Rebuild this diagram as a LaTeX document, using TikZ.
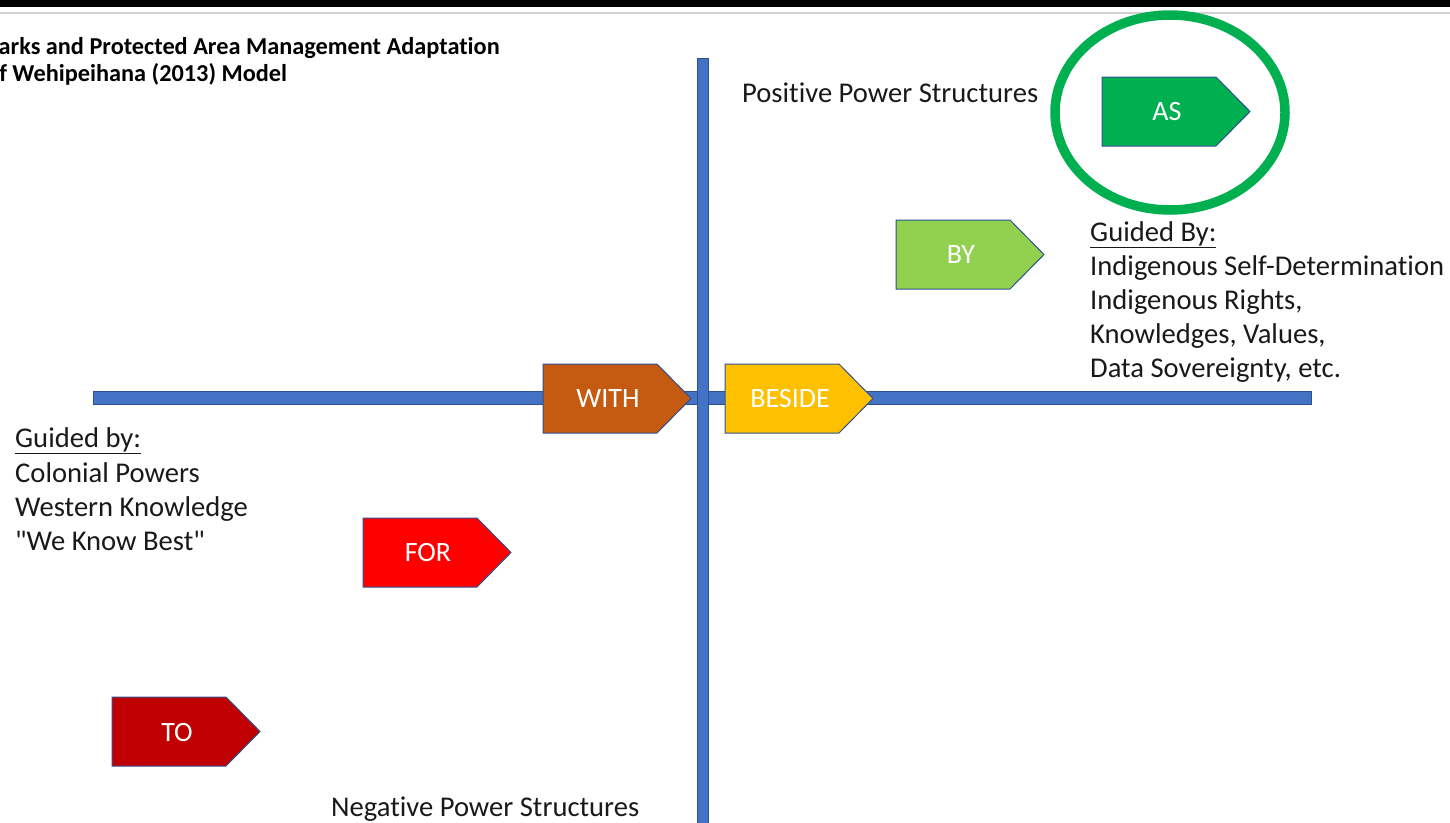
\documentclass[tikz,border=0pt]{standalone}
\usepackage{fontspec}
\setmainfont{Carlito}[Ligatures={ResetAll,NoCommon}]
\newfontfamily\plainquotes{Carlito}[Mapping=]
\newcommand\sq{{\plainquotes\symbol{34}}}
\begin{document}
\begin{tikzpicture}[x=1pt,y=-1pt,
  shapeline/.style={draw=outl,line width=1pt},
  axisbar/.style={fill=axisblue,draw=outl,line width=0.8pt},
  lbl/.style={text=white,font=\fontsize{28}{32}\selectfont,inner sep=0pt},
  body/.style={font=\fontsize{28.6}{34}\selectfont,inner sep=0pt,text=black!90,anchor=base west},
  ttl/.style={font=\bfseries\fontsize{24.3}{27}\selectfont,inner sep=0pt,anchor=base west}]
\definecolor{outl}{HTML}{2F528F}
\definecolor{axisblue}{HTML}{4472C4}
\definecolor{asgreen}{HTML}{00B050}
\definecolor{bygreen}{HTML}{92D050}
\definecolor{withbrown}{HTML}{C55A11}
\definecolor{besideyellow}{HTML}{FFC000}
\definecolor{forred}{HTML}{FF0000}
\definecolor{todarkred}{HTML}{C00000}
\newcommand\pentagon[5]{% name, left x, top y, fill colour, text
  \draw[shapeline,fill=#4] (#2,#3) -- ++(114,0) -- ++(34,34.5) -- ++(-34,34.5) -- ++(-114,0) -- cycle;
  \node[lbl] (#1) at ({#2+65},{#3+35}) {#5};
}
\useasboundingbox (0,0) rectangle (1450,822);
\clip (0,0) rectangle (1450,822);
% window frame at the top
\fill[black] (0,0) rectangle (1450,7);
\fill[black!18] (0,11.5) rectangle (1450,13.5);
% title, running off the left edge
\node[ttl] (title1) at (-14,54) {Parks and Protected Area Management Adaptation};
\node[ttl] (title2) at (-14,81) {of Wehipeihana (2013) Model};
% axes
\draw[axisbar] (93,391) rectangle (1311,404);
\draw[axisbar] (697,58) rectangle (708,830);
% pentagons
\pentagon{as}{1102}{77}{asgreen}{AS}
\pentagon{by}{896}{220}{bygreen}{BY}
\pentagon{with}{543}{364}{withbrown}{WITH}
\pentagon{beside}{725}{364}{besideyellow}{BESIDE}
\pentagon{for}{363}{518}{forred}{FOR}
\pentagon{to}{112}{697}{todarkred}{TO}
% highlight ring
\draw[asgreen,line width=9.5pt] (1170,112.5) ellipse [x radius=115, y radius=97.5];
% axis captions
\node[body] (pos) at (742,102) {Positive Power Structures};
\node[body] (neg) at (331,816.5) {Negative Power Structures};
% right-hand list
\node[body] (r1) at (1090,241.5) {\underline{Guided By:}};
\node[body] (r2) at (1090,275.5) {Indigenous Self-Determination};
\node[body] (r3) at (1090,309.5) {Indigenous Rights,};
\node[body] (r4) at (1090,343.5) {Knowledges, Values,};
\node[body] (r5) at (1090,377.5) {Data Sovereignty, etc.};
% left-hand list
\node[body] (l1) at (15,447) {\underline{Guided by:}};
\node[body] (l2) at (15,482) {Colonial Powers};
\node[body] (l3) at (15,516) {Western Knowledge};
\node[body] (l4) at (15,550) {\sq We Know Best\sq};
\end{tikzpicture}
\end{document}
